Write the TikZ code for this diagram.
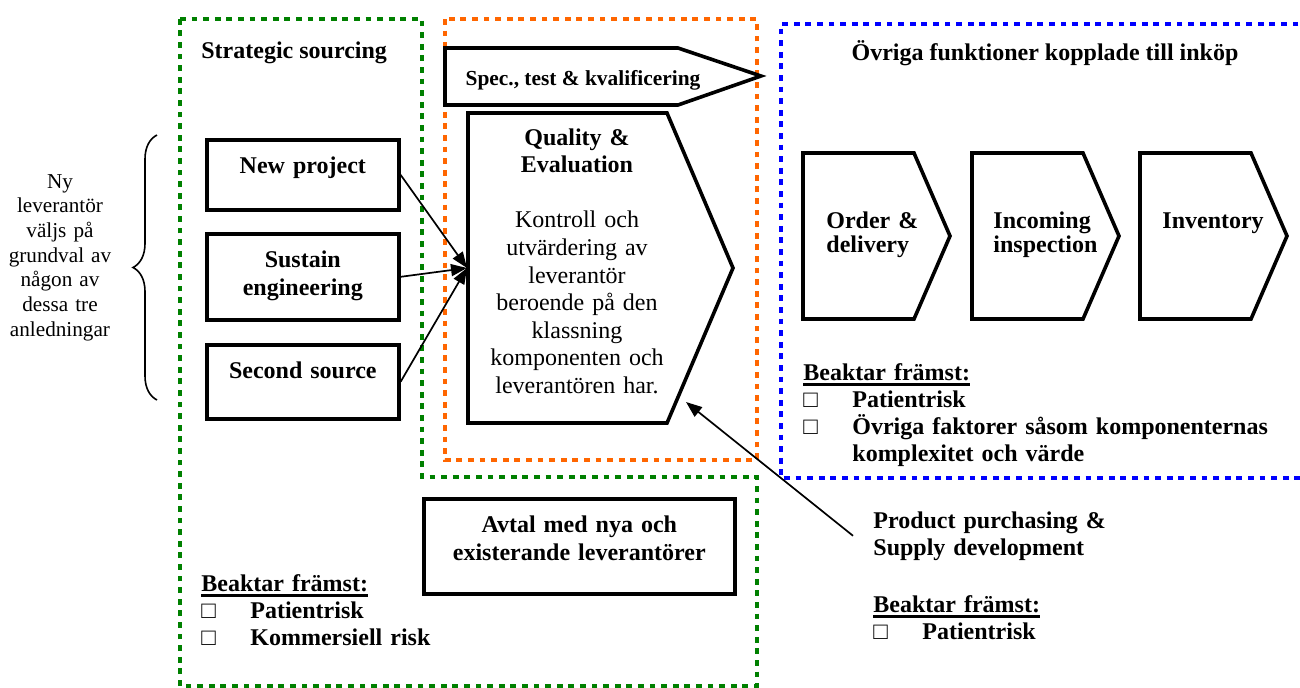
\documentclass[tikz,border=0pt]{standalone}
\usepackage{fontspec}
\setmainfont{Liberation Serif}
\usetikzlibrary{arrows.meta,decorations.pathreplacing}
\definecolor{zgreen}{RGB}{0,128,0}
\definecolor{zorange}{RGB}{255,102,0}
\definecolor{zblue}{RGB}{0,0,255}
\newcommand{\undline}[1]{\leavevmode\setbox0=\hbox{#1}\rlap{\rule[-3pt]{\wd0}{1.3pt}}\box0}
\newcommand{\boxitem}{\makebox[24.5pt][l]{\mdseries □}}

\begin{document}
\begin{tikzpicture}[x=0.5pt,y=-0.5pt,
  zone/.style={line width=2.3pt,dash pattern=on 2.9pt off 2.9pt},
  pent/.style={draw,line width=1.8pt,line join=miter},
  box/.style={draw,line width=1.8pt,inner sep=0pt,align=center,anchor=north west,
              text height=17pt,font=\bfseries\fontsize{12}{13.8}\selectfont},
  lbl/.style={inner sep=0pt,font=\bfseries\fontsize{12}{13.5}\selectfont},
  arrow/.style={-{Triangle[length=8pt,width=6pt]},line width=0.85pt}
]
\useasboundingbox (0,0) rectangle (1300,687);

% zones
\draw[zone,zgreen] (180,19) -- (422,19) -- (422,477) -- (757,477) -- (757,686) -- (180,686) -- cycle;
\draw[zone,zorange] (445,19) rectangle (757,460);
\draw[zone,zblue] (1310,24) -- (781,24) -- (781,478) -- (1310,478);

\node[lbl,anchor=base west] (strat) at (201,58) {Strategic sourcing};
\node[lbl,anchor=base] (other) at (1045,60) {Övriga funktioner kopplade till inköp};

% reasons for a new supplier
\draw[line width=0.8pt,decorate,decoration={brace,amplitude=12pt}] (157,400) -- (157,135);
\node[inner sep=0pt,text width=60pt,align=center,anchor=base,
      font=\fontsize{10.6}{12.35}\selectfont] (why) at (60,188)
  {Ny\\leverantör\\väljs på\\grundval av\\någon av\\dessa tre\\anledningar};

\node[box,text width=96pt,text depth=18pt] (np) at (205,138) {New project};
\node[box,text width=96pt,text depth=26pt] (se) at (205,232) {Sustain\\engineering};
\node[box,text width=96pt,text depth=20pt] (ss) at (205,343) {Second source};
\node[box,text width=155.5pt,text depth=30.5pt] (avtal) at (422,497) {Avtal med nya och\\existerande leverantörer};

% spec arrow
\draw[pent] (445,48) -- (678,48) -- (761,76) -- (678,105) -- (445,105) -- cycle;
\node[lbl,anchor=base,font=\bfseries\fontsize{10.7}{12}\selectfont] (spec) at (583,85) {Spec., test \& kvalificering};

% quality & evaluation
\draw[pent] (468,113) -- (667,113) -- (733,268) -- (667,423) -- (468,423) -- cycle;
\node[inner sep=0pt,text width=110pt,align=center,anchor=base,
      font=\fontsize{12}{13.8}\selectfont] (qual) at (577,145)
  {\textbf{Quality \&}\\\textbf{Evaluation}\\[13.8pt]Kontroll och\\utvärdering av\\leverantör\\beroende på den\\klassning\\komponenten och\\leverantören har.};
\coordinate (qin) at (467,268);
\coordinate (qedge) at (686,402);

% downstream functions
\foreach \x in {803,972,1140}
  \draw[pent] (\x,153) -- ++(111,0) -- ++(36,83) -- ++(-36,83) -- ++(-111,0) -- cycle;
\node[lbl,anchor=base west,text width=60pt,align=left,font=\bfseries\fontsize{12}{12}\selectfont] (order) at (826,228) {Order \&\\delivery};
\node[lbl,anchor=base west,text width=60pt,align=left,font=\bfseries\fontsize{12}{12}\selectfont] (incoming) at (993,228) {Incoming\\inspection};
\node[lbl,anchor=base west,text width=60pt,align=left] (inventory) at (1162,228) {Inventory};

% considerations
\node[lbl,anchor=base west,text width=240pt,align=left] (riskother) at (803,380)
  {\undline{Beaktar främst:}\\\boxitem Patientrisk\\\boxitem Övriga faktorer såsom komponenternas\\\hspace*{24.5pt}komplexitet och värde};
\node[lbl,anchor=base west,text width=130pt,align=left] (riskstrat) at (201,591)
  {\undline{Beaktar främst:}\\\boxitem Patientrisk\\\boxitem Kommersiell risk};
\node[lbl,anchor=base west,inner xsep=10pt,text width=130pt,align=left] (prod) at (853,528)
  {Product purchasing \&\\Supply development};
\node[lbl,anchor=base west,text width=100pt,align=left] (riskprod) at (873,612)
  {\undline{Beaktar främst:}\\\boxitem Patientrisk};

\draw[arrow] (np.east) -- (qin);
\draw[arrow] (se.east) -- (qin);
\draw[arrow] (ss.east) -- (qin);
\draw[arrow] (prod.west) -- (qedge);
\end{tikzpicture}
\end{document}
